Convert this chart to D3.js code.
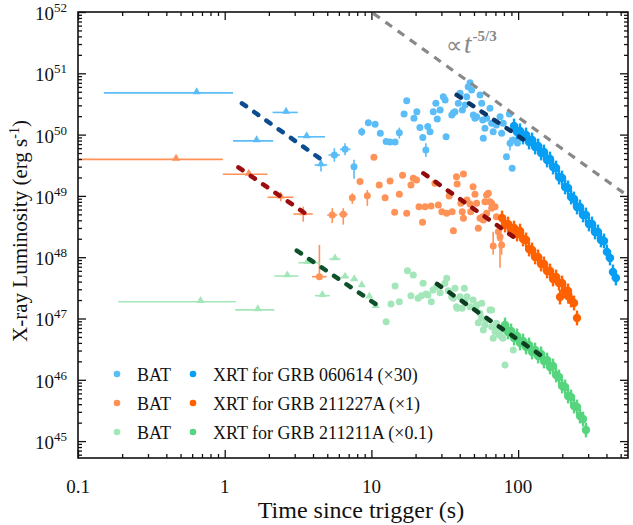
<!DOCTYPE html>
<html lang="en">
<head>
	<meta charset="UTF-8">
	<title>GRB X-ray Luminosity</title>
	<script src="https://d3js.org/d3.v7.min.js"></script>
	<style>
		body { margin: 0; background: #fff; }
		text { font-family: "Liberation Serif", "Times New Roman", serif; fill: #111; }
	</style>
</head>
<body>

	<svg width="633" height="525"></svg>

	<script>

		// ---- data: [t (s), L (erg/s), tLow, tHigh, LLow, LHigh] ----

		var bat060614Tri = [
			[0.644, 4.8e50, 0.150, 1.14],
			[1.65, 7.9e49, 1.14, 2.14],
			[2.62, 2.3e50, 2.12, 3.15],
			[3.62, 9.2e49, 3.15, 4.83],
			[4.53, 3.2e49, 4.1, 5.0, 2.5e49, 3.85e49]
		];

		var bat060614 = [
			[5.59, 4.65e49, 5.1, 6.1, 3.6e49, 6.0e49], [6.61, 5.75e49, 6.1, 7.2, 4.6e49, 7.2e49],
			[7.61, 3.0e49, 7.3, 7.9, 1.9e49, 3.9e49], [8.59, 1.11e50, 8.2, 9.0, 9.5e49, 1.3e50],
			[9.53, 1.56e50], [10.6, 1.47e50], [11.5, 1.05e50], [12.6, 7.7e49], [13.4, 7.6e49],
			[14.5, 7.6e49], [15.5, 1.07e50, null, null, 8.6e49, 1.3e50], [16.7, 2.17e50],
			[17.4, 3.57e50], [19.5, 1.84e50], [20.4, 2.36e50], [21.4, 1.31e50], [22.4, 9.0e49],
			[23.5, 5.6e49, null, null, 4.3e49, 7.2e49], [24.2, 1.35e50], [25.1, 1.11e50],
			[26.4, 2.36e50], [27.5, 3.24e50], [28.1, 1.80e50], [29.4, 2.52e50], [30.9, 4.15e50],
			[31.8, 3.67e50], [32.3, 9.2e49], [35.3, 2.09e50], [36.2, 2.28e50], [37.1, 2.36e50],
			[39.1, 3.24e50], [40.2, 4.72e50], [41.7, 2.52e50], [43.5, 3.04e50], [44.6, 4.15e50],
			[45.7, 6.04e50], [47.0, 7.03e50], [48.2, 5.34e50], [49.5, 2.09e50], [50.8, 1.84e50],
			[52.2, 1.96e50], [55.0, 4.43e50], [56.5, 3.24e50], [57.4, 1.73e50], [59.4, 1.27e50],
			[57.9, 8.7e49], [61.0, 1.84e50], [64.3, 2.69e50], [66.0, 1.53e50], [67.6, 1.11e50],
			[71.1, 1.43e50], [75.3, 1.96e50], [77.2, 1.05e50], [79.1, 1.53e50], [83.3, 4.36e49],
			[87.2, 2.17e50], [88.1, 7.2e49, null, null, 5.5e49, 9.0e49], [91.1, 2.82e49],
			[92.6, 8.16e49], [99, 7.3e49], [105, 8.8e49]
		];

		var xrt060614 = [
			[93.8, 1.38e50], [98.3, 1.10e50], [103, 1.15e50], [108, 9.14e49], [113.3, 9.85e49],
			[118.7, 7.57e49], [124.5, 8.16e49], [130.5, 6.28e49], [136.8, 6.52e49], [143.4, 5.01e49],
			[150, 5.20e49], [157.5, 3.85e49], [165, 4.00e49], [173, 2.96e49], [181.4, 2.85e49],
			[190, 2.03e49], [199.3, 1.96e49], [209, 1.40e49], [219, 1.35e49], [229.5, 9.59e48],
			[240.5, 8.90e48], [252, 6.59e48], [264, 6.59e48], [277, 4.88e48], [290, 4.88e48],
			[304, 3.48e48], [319, 3.48e48], [334, 2.58e48], [350, 2.58e48], [367, 1.91e48],
			[385, 1.84e48], [403, 1.22e48], [423, 9.71e47], [443, 5.74e47], [464, 4.58e47]
		];

		var bat211227ATri = [
			[0.466, 3.95e49, 0.08, 0.97],
			[1.46, 2.25e49, 0.97, 1.96],
			[2.41, 9.5e48, 1.96, 2.94, 8.2e48, 1.1e49],
			[3.43, 5.07e48, 2.94, 3.98, 3.79e48, 6.67e48]
		];

		var bat211227A = [
			[4.42, 4.81e47, 3.93, 4.95, 4.25e47, 1.58e48], [5.41, 4.88e48, 5.0, 5.85, 3.6e48, 6.3e48],
			[6.43, 5.0e48, 6.0, 6.9, 3.4e48, 6.3e48], [7.41, 9.35e48, 7.1, 7.7, 7.4e48, 1.1e49],
			[8.36, 1.71e49], [9.38, 1.01e49, null, null, 6.9e48, 1.25e49], [10.4, 4.26e49],
			[11.3, 1.51e49], [12.4, 9.35e48], [13.4, 1.75e49], [14.4, 5.40e48], [15.5, 1.06e49],
			[16.3, 2.17e49], [17.4, 5.20e48], [18.6, 1.51e49], [19.3, 1.94e49], [20.3, 1.82e49],
			[21.1, 6.67e48], [22.3, 3.71e48], [23.2, 6.67e48], [25.5, 6.84e48], [27.1, 1.61e49],
			[28.6, 7.11e48], [30.2, 5.52e48], [32.6, 5.20e48], [33.9, 9.96e48], [35.5, 5.52e48],
			[36.2, 2.71e48], [38.0, 2.06e49], [38.4, 1.56e49], [42.4, 2.28e49], [40.7, 7.57e48],
			[41.6, 5.52e48], [42.4, 4.31e48], [44.8, 8.58e48], [47.0, 7.38e48], [47.5, 5.52e48],
			[49.3, 1.41e49], [50.8, 1.06e49], [52.1, 7.57e48], [55.0, 4.31e48], [53.5, 2.96e48],
			[57.3, 4.58e48], [57.9, 4.04e48], [59.4, 8.04e48], [61.0, 1.03e49], [61.0, 5.20e48],
			[62.6, 1.10e49], [64.3, 8.04e48], [66.0, 6.28e48], [66.0, 7.57e48],
			[67.6, 1.52e48, null, null, 1.1e48, 2.6e48], [69.6, 6.67e48], [71.1, 4.58e48],
			[73.3, 2.61e48, null, null, 1.84e48, 3.3e48], [75.3, 2.16e48, null, null, 6.7e47, 3.35e48],
			[77.2, 1.58e48, null, null, 1.1e48, 2.2e48]
		];

		var xrt211227A = [
			[77.7, 4.36e48], [81.4, 3.35e48], [85.4, 3.48e48], [89.5, 2.78e48], [93.8, 2.99e48],
			[98.3, 2.39e48], [103, 2.67e48], [108, 1.98e48], [113.3, 1.91e48], [118.7, 1.36e48],
			[124.5, 1.31e48], [130.5, 1.01e48], [136.8, 1.01e48], [143.4, 7.74e47], [150, 7.74e47],
			[157.5, 5.96e47], [165, 5.96e47], [173, 4.41e47], [181.4, 4.75e47], [190, 3.79e47],
			[193, 2.24e47], [199.3, 3.79e47], [209, 2.81e47], [219, 2.81e47], [220, 2.3e47],
			[229.5, 2.00e47], [240.5, 1.79e47], [252, 1.02e47]
		];

		var bat211211ATri = [
			[0.685, 1.88e47, 0.188, 1.19], [1.68, 1.38e47, 1.18, 2.18], [2.67, 4.93e47, 2.18, 3.18],
			[3.66, 8.13e47, 3.18, 4.47], [4.63, 2.36e47, 4.12, 5.21], [5.65, 9.35e47, 5.16, 6.15],
			[6.61, 4.70e47, 6.2, 7.0], [7.64, 4.25e47, 7.2, 8.1], [8.59, 3.39e47, 8.2, 9.0],
			[9.68, 2.22e47], [10.7, 1.56e47]
		];

		var bat211211A = [
			[12.6, 8.87e46], [13.6, 1.72e47], [15.5, 1.88e47], [14.5, 3.39e47], [17.6, 6.03e47],
			[19.3, 5.12e47], [18.6, 2.36e47], [20.8, 2.13e47], [21.9, 2.36e47], [22.5, 3.75e47],
			[23.6, 2.51e47], [24.3, 2.42e47], [25.6, 1.88e47], [26.3, 2.92e47], [27.8, 3.30e47],
			[29.4, 2.64e47], [31.7, 3.75e47], [32.6, 4.53e47], [33.4, 2.84e47], [35.3, 2.27e47],
			[36.2, 2.13e47], [37.1, 3.11e47], [38.0, 1.56e47], [38.4, 1.47e47], [40.2, 2.27e47],
			[41.5, 1.47e47], [43.0, 3.11e47], [43.5, 1.88e47], [44.8, 2.27e47], [47.0, 1.56e47],
			[49.3, 2.00e47], [51.4, 1.47e47], [52.1, 1.66e47], [53.5, 8.54e46], [55.0, 1.22e47],
			[56.4, 1.01e47], [56.5, 1.77e47], [57.9, 6.49e46], [59.4, 7.84e46], [61.0, 9.46e46],
			[64.3, 1.38e47], [66.0, 7.35e46], [66.0, 1.38e47], [67.6, 4.75e46], [69.6, 6.09e46],
			[71.1, 8.36e46], [73.3, 6.92e46], [74.3, 5.38e46], [77.2, 5.05e46], [78.8, 4.75e46],
			[79.1, 6.49e46], [81.4, 1.74e46], [92.7, 3.06e46]
		];

		var xrt211211A = [
			[81.4, 7.84e46], [85.4, 6.03e46], [89.5, 6.25e46], [93.8, 4.81e46], [98.3, 5.19e46],
			[103, 3.98e46], [108, 4.30e46], [113.3, 3.43e46], [118.7, 3.70e46], [124.5, 2.84e46],
			[130.5, 3.06e46], [136.8, 2.44e46], [143.4, 2.64e46], [150, 2.03e46], [157.5, 2.10e46],
			[165, 1.62e46], [173, 1.68e46], [181.4, 1.20e46], [190, 1.11e46], [199.3, 7.93e45],
			[209, 7.64e45], [219, 5.44e45], [229.5, 5.24e45], [240.5, 3.74e45], [252, 3.60e45],
			[264, 2.56e45], [277, 2.29e45], [290, 1.52e45]
		];

		// error factor on each XRT point (time, luminosity)
		var xrtErrT = 1.035;
		var xrtErrL = 1.32;

		// -5/3 fits: two segments each, [start, end]
		var fit060614 = [[[1.31, 3.24e50], [4.96, 3.40e49]], [[38.1, 4.43e50], [121, 7.03e49]]];
		var fit211227A = [[[1.24, 2.93e49], [3.81, 4.58e48]], [[22.6, 2.34e49], [92.7, 2.16e48]]];
		var fit211211A = [[[3.10, 1.28e48], [12.1, 1.41e47]], [[28.0, 3.66e47], [148, 2.36e46]]];
		var powerLaw = [[10.3, 9.5e51], [550, 1.03e49]];

		var xMajor = [0.1, 1, 10, 100];
		var xLabels = ["0.1", "1", "10", "100"];
		var yExponents = [45, 46, 47, 48, 49, 50, 51, 52];
		var legendLabels = ["XRT for GRB 060614 (\u00d730)", "XRT for GRB 211227A (\u00d71)", "XRT for GRB 211211A (\u00d70.1)"];

		// ---- layout ----
		var margin = {top: 12, right: 5, bottom: 67, left: 78};
		var width = 633 - margin.left - margin.right;
		var height = 525 - margin.top - margin.bottom;

		var svgRoot = d3.select("svg");
		var svg = svgRoot.append("g")
			.attr("transform", "translate(" + margin.left + "," + margin.top + ")");

		var x = d3.scaleLog().domain([0.1, 561]).range([0, width]);
		var y = d3.scaleLog().domain([5.3e44, 1e52]).range([height, 0]);

		svg.append("clipPath").attr("id", "clip")
			.append("rect").attr("width", width).attr("height", height);

		var plot = svg.append("g").attr("clip-path", "url(#clip)");

		var colors = {
			bat1: "#5bbdf7", xrt1: "#079ff3",
			bat2: "#ff9257", xrt2: "#ff6100",
			bat3: "#a3e6b9", xrt3: "#56d47e"
		};

		function errorBars(g, data, color) {
			data.forEach(function(d) {
				if (d[2] != null) {
					g.append("line")
						.attr("x1", x(d[2])).attr("x2", x(d[3]))
						.attr("y1", y(d[1])).attr("y2", y(d[1]))
						.attr("stroke", color).attr("stroke-width", 1.6);
				}
				if (d[4] != null) {
					g.append("line")
						.attr("x1", x(d[0])).attr("x2", x(d[0]))
						.attr("y1", y(d[4])).attr("y2", y(d[5]))
						.attr("stroke", color).attr("stroke-width", 1.6);
				}
			});
		}

		function circles(g, data, color, r) {
			g.selectAll(null)
				.data(data)
				.enter()
				.append("circle")
				.attr("cx", function(d) { return x(d[0]); })
				.attr("cy", function(d) { return y(d[1]); })
				.attr("r", r)
				.attr("fill", color);
		}

		function triangles(g, data, color) {
			errorBars(g, data, color);
			g.selectAll(null)
				.data(data)
				.enter()
				.append("path")
				.attr("d", d3.symbol().type(d3.symbolTriangle).size(28))
				.attr("transform", function(d) { return "translate(" + x(d[0]) + "," + (y(d[1]) - 1) + ")"; })
				.attr("fill", color);
		}

		function xrt(g, data, color) {
			data.forEach(function(d) {
				g.append("line")
					.attr("x1", x(d[0] / xrtErrT)).attr("x2", x(d[0] * xrtErrT))
					.attr("y1", y(d[1])).attr("y2", y(d[1]))
					.attr("stroke", color).attr("stroke-width", 2.4);
				g.append("line")
					.attr("x1", x(d[0])).attr("x2", x(d[0]))
					.attr("y1", y(d[1] / xrtErrL)).attr("y2", y(d[1] * xrtErrL))
					.attr("stroke", color).attr("stroke-width", 2.4);
			});
			circles(g, data, color, 4.2);
		}

		// BAT points
		var gb = plot.append("g");
		triangles(gb, bat060614Tri, colors.bat1);
		errorBars(gb, bat060614, colors.bat1);
		circles(gb, bat060614, colors.bat1, 3.5);

		triangles(gb, bat211227ATri, colors.bat2);
		errorBars(gb, bat211227A, colors.bat2);
		circles(gb, bat211227A, colors.bat2, 3.5);

		triangles(gb, bat211211ATri, colors.bat3);
		errorBars(gb, bat211211A, colors.bat3);
		circles(gb, bat211211A, colors.bat3, 3.5);

		// XRT points
		var gx = plot.append("g");
		xrt(gx, xrt060614, colors.xrt1);
		xrt(gx, xrt211227A, colors.xrt2);
		xrt(gx, xrt211211A, colors.xrt3);

		// fits
		var line = d3.line()
			.x(function(d) { return x(d[0]); })
			.y(function(d) { return y(d[1]); });

		function fit(segs, c1, c2) {
			segs.forEach(function(s, i) {
				plot.append("path")
					.attr("d", line(s))
					.attr("fill", "none")
					.attr("stroke", i == 0 ? c1 : c2)
					.attr("stroke-width", 4.5)
					.attr("stroke-linecap", "round")
					.attr("stroke-dasharray", "5,10");
			});
		}
		fit(fit060614, "#0c4d92", "#0b3868");
		fit(fit211227A, "#9e0d0d", "#900b0b");
		fit(fit211211A, "#0d5229", "#0b3f20");

		plot.append("path")
			.attr("d", line(powerLaw))
			.attr("fill", "none")
			.attr("stroke", "#888")
			.attr("stroke-width", 3.2)
			.attr("stroke-dasharray", "8,7");

		// power-law label
		var pl = svg.append("text")
			.attr("x", 446 - margin.left)
			.attr("y", 53 - margin.top)
			.style("fill", "#888");
		pl.append("tspan").style("font-size", "23px").style("fill", "#888").text("\u221d");
		pl.append("tspan").style("font-size", "27px").style("font-style", "italic").style("fill", "#888").attr("dx", 2).text("t");
		pl.append("tspan").style("font-size", "15px").style("font-weight", "bold").style("fill", "#888").attr("dx", 1).attr("dy", -12).text("-5/3");

		// ---- axes (ticks inward on all four sides) ----
		var xMinor = [];
		[0.1, 1, 10, 100].forEach(function(b) {
			for (var k = 2; k <= 9; k++) if (b * k < 561) xMinor.push(b * k);
		});
		var yMajor = yExponents.map(function(e) { return Math.pow(10, e); });
		var yMinor = [];
		[44, 45, 46, 47, 48, 49, 50, 51].forEach(function(e) {
			for (var k = 2; k <= 9; k++) {
				var v = k * Math.pow(10, e);
				if (v > 5.3e44 && v < 1e52) yMinor.push(v);
			}
		});

		function axis(gen, scale, vals, size) {
			return gen(scale).tickValues(vals).tickSize(-size).tickFormat("");
		}

		var axes = svg.append("g").attr("class", "axes");
		axes.append("g").attr("transform", "translate(0," + height + ")").call(axis(d3.axisBottom, x, xMajor, 8));
		axes.append("g").attr("transform", "translate(0," + height + ")").call(axis(d3.axisBottom, x, xMinor, 4));
		axes.append("g").call(axis(d3.axisTop, x, xMajor, 8));
		axes.append("g").call(axis(d3.axisTop, x, xMinor, 4));
		axes.append("g").call(axis(d3.axisLeft, y, yMajor, 8));
		axes.append("g").call(axis(d3.axisLeft, y, yMinor, 4));
		axes.append("g").attr("transform", "translate(" + width + ",0)").call(axis(d3.axisRight, y, yMajor, 8));
		axes.append("g").attr("transform", "translate(" + width + ",0)").call(axis(d3.axisRight, y, yMinor, 4));
		axes.selectAll(".domain").remove();
		axes.selectAll("line").attr("stroke", "#111").attr("stroke-width", 1.3);

		svg.append("rect")
			.attr("width", width).attr("height", height)
			.attr("fill", "none").attr("stroke", "#111").attr("stroke-width", 1.6);

		// tick labels
		svg.selectAll(".xlab")
			.data(xMajor)
			.enter()
			.append("text")
			.attr("x", function(d) { return x(d); })
			.attr("y", height + 35)
			.attr("text-anchor", "middle")
			.style("font-size", "19px")
			.text(function(d, i) { return xLabels[i]; });

		yExponents.forEach(function(e) {
			var t = svg.append("text")
				.attr("x", -11)
				.attr("y", y(Math.pow(10, e)) + 8)
				.attr("text-anchor", "end")
				.style("font-size", "19px");
			t.append("tspan").text("10");
			t.append("tspan").attr("dy", -8).style("font-size", "13px").text(e);
		});

		// axis titles
		svgRoot.append("text")
			.attr("x", 361)
			.attr("y", 518)
			.attr("text-anchor", "middle")
			.style("font-size", "24px")
			.text("Time since trigger (s)");

		var yt = svgRoot.append("text")
			.attr("transform", "translate(27,231) rotate(-90)")
			.attr("text-anchor", "middle")
			.style("font-size", "21px");
		yt.append("tspan").text("X-ray Luminosity (erg s");
		yt.append("tspan").attr("dy", -8).style("font-size", "14px").text("-1");
		yt.append("tspan").attr("dy", 8).text(")");

		// legend
		var batColors = [colors.bat1, colors.bat2, colors.bat3];
		var xrtColors = [colors.xrt1, colors.xrt2, colors.xrt3];
		var legend = svgRoot.selectAll(".legend")
			.data(legendLabels)
			.enter()
			.append("g")
			.attr("class", "legend")
			.attr("transform", function(d, i) { return "translate(0," + (374 + i * 29) + ")"; });

		legend.append("circle").attr("cx", 117).attr("cy", 0).attr("r", 3.3)
			.attr("fill", function(d, i) { return batColors[i]; });
		legend.append("text").attr("x", 137).attr("y", 6.5).style("font-size", "18px").text("BAT");
		legend.append("circle").attr("cx", 193).attr("cy", 0).attr("r", 3.3)
			.attr("fill", function(d, i) { return xrtColors[i]; });
		legend.append("text").attr("x", 213).attr("y", 6.5).style("font-size", "18px").text(function(d) { return d; });

	</script>

</body>
</html>
